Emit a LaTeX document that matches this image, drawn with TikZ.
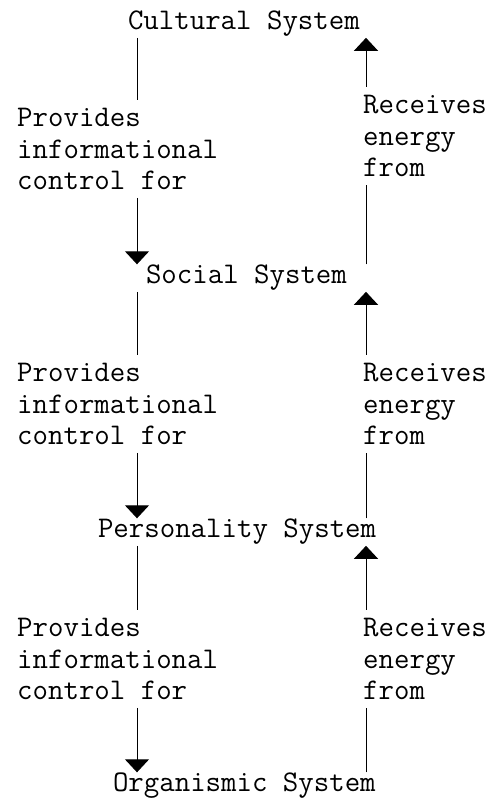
\documentclass[tikz,border=0pt]{standalone}
\usetikzlibrary{arrows.meta}
\tikzset{
    sys/.style={anchor=base west, inner sep=0pt, outer sep=1pt, font=\ttfamily\fontsize{30}{31.5}\selectfont},
    lab/.style={anchor=north west, align=left, inner xsep=0pt, inner ysep=8pt, font=\ttfamily\fontsize{30}{31.5}\selectfont},
    link/.style={line width=1pt},
    flow/.style={line width=1pt, -{Triangle[width=24pt,length=13pt]}}
}

\begin{document}
\begin{tikzpicture}[x=1pt,y=1pt]
    \useasboundingbox (0,0) rectangle (491,799);
    \coordinate (lx) at (137,0);
    \coordinate (rx) at (366,0);
    \node[sys] (C) at (127,769) {Cultural System};
    \node[sys] (S) at (145,515) {Social System};
    \node[sys] (P) at (97,261) {Personality System};
    \node[sys] (O) at (112,7) {Organismic System};
    \node[lab] (L1) at (17,699) {Provides\\informational\\control for};
    \node[lab] (R1) at (363,712) {Receives\\energy\\from};
    \node[lab] (L2) at (17,444) {Provides\\informational\\control for};
    \node[lab] (R2) at (363,444) {Receives\\energy\\from};
    \node[lab] (L3) at (17,189) {Provides\\informational\\control for};
    \node[lab] (R3) at (363,189) {Receives\\energy\\from};
    \draw[link] (C.south -| lx) -- (L1.north -| lx);
    \draw[flow] (L1.south -| lx) -- (S.north -| lx);
    \draw[link] (S.south -| lx) -- (L2.north -| lx);
    \draw[flow] (L2.south -| lx) -- (P.north -| lx);
    \draw[link] (P.south -| lx) -- (L3.north -| lx);
    \draw[flow] (L3.south -| lx) -- (O.north -| lx);
    \draw[flow] (R1.north -| rx) -- (C.south -| rx);
    \draw[link] (S.north -| rx) -- (R1.south -| rx);
    \draw[flow] (R2.north -| rx) -- (S.south -| rx);
    \draw[link] (P.north -| rx) -- (R2.south -| rx);
    \draw[flow] (R3.north -| rx) -- (P.south -| rx);
    \draw[link] (O.north -| rx) -- (R3.south -| rx);
\end{tikzpicture}
\end{document}
